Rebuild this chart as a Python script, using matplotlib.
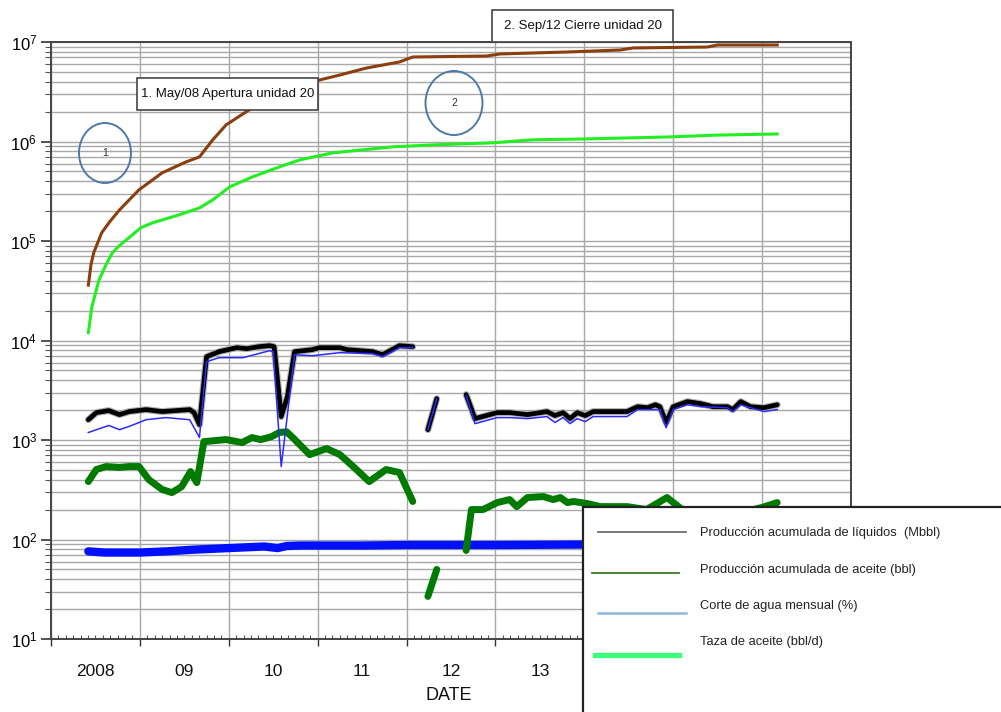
import matplotlib
matplotlib.use("Agg")
import matplotlib.pyplot as plt
import matplotlib.patheffects as pe
import numpy as np
from matplotlib.lines import Line2D
from matplotlib.patches import Ellipse, Rectangle
from matplotlib.ticker import FixedLocator, LogLocator, LogFormatterMathtext, NullFormatter

plt.rcParams["font.family"] = ["Liberation Sans", "DejaVu Sans"]
plt.rcParams["mathtext.fontset"] = "custom"
plt.rcParams["mathtext.rm"] = "Liberation Sans"
plt.rcParams["mathtext.it"] = "Liberation Sans:italic"

NaN = np.nan

# cumulative liquids (brown)
cum_liq_dates = [2008.42, 2008.45, 2008.48, 2008.57, 2008.66, 2008.77, 2008.99, 2009.25,
                 2009.52, 2009.67, 2009.82, 2009.97, 2010.23, 2010.60, 2011.02, 2011.25,
                 2011.55, 2011.92, 2012.07, 2012.90, 2013.05, 2013.81, 2014.40, 2014.55,
                 2015.38, 2015.50, 2016.17]
cum_liq = [3.6e4, 5.8e4, 7.6e4, 1.21e5, 1.56e5, 2.05e5, 3.27e5, 4.84e5,
           6.24e5, 7.0e5, 1.04e6, 1.47e6, 2.08e6, 3.1e6, 4.15e6, 4.66e6,
           5.48e6, 6.3e6, 7.07e6, 7.23e6, 7.58e6, 7.94e6, 8.31e6, 8.71e6,
           8.9e6, 9.33e6, 9.33e6]

# cumulative oil (bright green)
cum_oil_dates = [2008.42, 2008.46, 2008.54, 2008.62, 2008.69, 2008.77, 2008.85, 2009.01,
                 2009.14, 2009.44, 2009.67, 2009.82, 2010.01, 2010.27, 2010.57, 2010.80,
                 2011.17, 2011.84, 2012.30, 2012.97, 2013.42, 2013.99, 2014.93, 2015.50,
                 2016.17]
cum_oil = [1.2e4, 2.18e4, 4.07e4, 5.8e4, 7.6e4, 9.0e4, 1.03e5, 1.36e5,
           1.52e5, 1.83e5, 2.15e5, 2.59e5, 3.5e5, 4.42e5, 5.56e5, 6.54e5,
           7.69e5, 8.83e5, 9.25e5, 9.7e5, 1.04e6, 1.06e6, 1.11e6, 1.16e6,
           1.19e6]

# liquid rate (black), NaN marks the shut-in gaps
liq_rate_dates = [2008.42, 2008.51, 2008.65, 2008.77, 2008.88, 2009.07, 2009.25, 2009.56,
                  2009.61, 2009.67, 2009.75, 2009.89, 2010.09, 2010.20, 2010.34, 2010.46,
                  2010.51, 2010.59, 2010.66, 2010.74, 2010.94, 2011.02, 2011.25, 2011.33,
                  2011.62, 2011.73, 2011.92, 2012.07,
                  2012.15, 2012.24, 2012.34, 2012.50,
                  2012.67, 2012.77, 2013.02, 2013.16, 2013.36, 2013.58, 2013.67, 2013.76,
                  2013.84, 2013.92, 2014.01, 2014.10, 2014.32, 2014.48, 2014.60, 2014.71,
                  2014.80, 2014.85, 2014.92, 2015.00, 2015.16, 2015.31, 2015.45, 2015.61,
                  2015.67, 2015.76, 2015.87, 2016.02, 2016.17]
liq_rate = [1600, 1885, 1975, 1800, 1930, 2020, 1930, 2020,
            1885, 1430, 6870, 7720, 8470, 8280, 8670, 8870,
            8670, 1720, 2730, 7720, 8090, 8470, 8470, 8090,
            7720, 7190, 8870, 8670,
            NaN, 1270, 2600, NaN,
            2860, 1640, 1885, 1885, 1800, 1930, 1760, 1885,
            1640, 1885, 1760, 1930, 1930, 1930, 2160, 2110,
            2260, 2160, 1500, 2160, 2430, 2320, 2160, 2160,
            2020, 2430, 2160, 2110, 2260]

# water rate (thin blue)
water_rate_dates = [2008.42, 2008.65, 2008.77, 2008.88, 2009.07, 2009.29, 2009.56, 2009.67,
                    2009.75, 2009.89, 2010.16, 2010.46, 2010.50, 2010.59, 2010.74, 2010.94,
                    2011.25, 2011.62, 2011.73, 2011.92, 2012.07,
                    2012.15, 2012.24, 2012.34, 2012.50,
                    2012.67, 2012.77, 2013.02, 2013.16, 2013.36, 2013.58, 2013.67, 2013.76,
                    2013.84, 2013.92, 2014.01, 2014.10, 2014.48, 2014.60, 2014.85, 2014.92,
                    2015.00, 2015.16, 2015.31, 2015.61, 2015.67, 2015.76, 2016.02, 2016.17]
water_rate = [1190, 1400, 1270, 1370, 1600, 1680, 1600, 1060,
              6120, 6720, 6720, 7900, 7720, 541, 7190, 7030,
              7550, 7380, 6870, 8470, 8470,
              NaN, 1270, 2600, NaN,
              2790, 1460, 1680, 1680, 1640, 1720, 1500, 1680,
              1460, 1640, 1530, 1720, 1720, 2020, 2020, 1330,
              2020, 2260, 2160, 2110, 1930, 2260, 1930, 2020]

# oil rate (dark green)
oil_rate_dates = [2008.42, 2008.51, 2008.62, 2008.77, 2008.88, 2008.99, 2009.10, 2009.25,
                  2009.36, 2009.47, 2009.57, 2009.64, 2009.72, 2009.97, 2010.15, 2010.26,
                  2010.36, 2010.48, 2010.57, 2010.65, 2010.72, 2010.91, 2011.10, 2011.25,
                  2011.40, 2011.58, 2011.77, 2011.92, 2012.07,
                  2012.15, 2012.24, 2012.34, 2012.50,
                  2012.67, 2012.73, 2012.86, 2013.02, 2013.16, 2013.24, 2013.36, 2013.54,
                  2013.65, 2013.73, 2013.81, 2013.88, 2014.03, 2014.18, 2014.32, 2014.48,
                  2014.70, 2014.93, 2015.10, 2015.40, 2015.80, 2016.00, 2016.17]
oil_rate = [382, 505, 541, 530, 541, 541, 400, 318,
            296, 340, 482, 373, 963, 1010, 942, 1057,
            1010, 1080, 1190, 1210, 1057, 713, 820, 713,
            541, 382, 505, 471, 241,
            NaN, 26.8, 50, NaN,
            77.6, 200, 200, 235, 252, 214, 264, 270,
            252, 264, 235, 241, 230, 214, 214, 214,
            200, 264, 200, 178, 190, 210, 235]

# water cut (thick blue)
water_cut_dates = [2008.42, 2008.60, 2009.00, 2009.30, 2009.60, 2010.00, 2010.40, 2010.55,
                   2010.65, 2010.80, 2011.50, 2012.00, 2013.00, 2014.00, 2016.17]
water_cut = [76, 74, 74, 76, 79, 82, 85, 82,
             86, 87, 87, 88, 88, 89, 90]

years = list(range(2008, 2017))
year_labels = ["2008", "09", "10", "11", "12", "13", "14", "15", "16"]

legend_labels = [
    "Producción acumulada de líquidos  (Mbbl)",
    "Producción acumulada de aceite (bbl)",
    "Corte de agua mensual (%)",
    "Taza de aceite (bbl/d)",
]

W, H = 1001, 712


def fx(px):
    return px / W


def fy(py):
    return 1 - py / H


fig = plt.figure(figsize=(W / 100, H / 100), dpi=100)
ax = fig.add_axes([fx(51), fy(639), 800 / W, 597 / H])

ax.set_yscale("log")
ax.set_xlim(2008, 2017)
ax.set_ylim(10, 1e7)

ax.plot(water_cut_dates, water_cut, color="#0010ff", lw=6.0, solid_capstyle="round", zorder=3)
ax.plot(oil_rate_dates, oil_rate, color="#007a00", lw=5.0, solid_capstyle="round",
        solid_joinstyle="round", zorder=4)
ax.plot(liq_rate_dates, liq_rate, color="black", lw=3.4, solid_capstyle="round", zorder=5,
        path_effects=[pe.Stroke(linewidth=5.0, foreground="#b0b0b0"), pe.Normal()])
ax.plot(water_rate_dates, water_rate, color="#2a2aff", lw=1.1, zorder=6)
ax.plot(cum_liq_dates, cum_liq, color="#8b3f0e", lw=2.2, solid_joinstyle="round", zorder=4)
ax.plot(cum_oil_dates, cum_oil, color="#22ee22", lw=2.2, solid_joinstyle="round", zorder=4)

# grid and ticks
ax.xaxis.set_major_locator(FixedLocator(years + [2017]))
ax.xaxis.set_minor_locator(FixedLocator(np.arange(2008, 2017, 1 / 12)))
ax.xaxis.set_major_formatter(NullFormatter())
ax.yaxis.set_major_locator(LogLocator(base=10, numticks=10))
ax.yaxis.set_minor_locator(LogLocator(base=10, subs=np.arange(2, 10), numticks=20))
ax.yaxis.set_major_formatter(LogFormatterMathtext())
ax.yaxis.set_minor_formatter(NullFormatter())

ax.grid(True, which="major", axis="x", color="#a8a8a8", lw=1.0)
ax.grid(True, which="both", axis="y", color="#a8a8a8", lw=1.0)
ax.set_axisbelow(True)

ax.tick_params(axis="x", which="major", direction="out", length=5, width=1, color="#333333")
ax.tick_params(axis="x", which="minor", direction="in", length=3, width=0.8, color="#555555")
ax.tick_params(axis="y", which="major", direction="out", length=7, width=1.2,
               labelsize=12, pad=3, color="#333333")
ax.tick_params(axis="y", which="minor", direction="out", length=4, width=0.8, color="#555555")

for side in ("left", "right", "top", "bottom"):
    ax.spines[side].set_color("#444444")
    ax.spines[side].set_linewidth(1.4)

xform = ax.get_xaxis_transform()
for yr, lab in zip(years, year_labels):
    ax.text(yr + 0.5, -0.054, lab, transform=xform, ha="center", va="center",
            fontsize=12.5, color="#111111", clip_on=False)

fig.text(fx(449), fy(695), "DATE", ha="center", va="center", fontsize=13, color="#111111")

# event boxes and markers
for (x0, y0, w, h), txt in [((137, 78, 181, 32), "1. May/08 Apertura unidad 20"),
                            ((492, 10, 181, 32), "2. Sep/12 Cierre unidad 20")]:
    fig.add_artist(Rectangle((fx(x0), fy(y0 + h)), w / W, h / H, transform=fig.transFigure,
                             facecolor="white", edgecolor="#444444", lw=1.2, zorder=5))
    fig.text(fx(x0 + w / 2), fy(y0 + h / 2), txt, ha="center", va="center",
             fontsize=9.5, color="#111111", zorder=6)

for (cx, cy, w, h), txt in [((105, 153, 52, 60), "1"), ((454, 103, 57, 64), "2")]:
    fig.add_artist(Ellipse((fx(cx), fy(cy)), w / W, h / H, transform=fig.transFigure,
                           facecolor="none", edgecolor="#4c79a8", lw=1.4, zorder=5))
    fig.text(fx(cx), fy(cy), txt, ha="center", va="center", fontsize=7.5, color="#333333",
             zorder=6)

# legend panel
fig.add_artist(Rectangle((fx(583), -0.02), 0.5, fy(507) + 0.02, transform=fig.transFigure,
                         facecolor="white", edgecolor="#222222", lw=1.6, zorder=10))
legend_styles = [
    dict(color="#6e6e6e", lw=1.3, x=(598, 686), y=532, ty=533),
    dict(color="#3b7a2a", lw=1.3, x=(592, 679), y=573, ty=570),
    dict(color="#93b6dc", lw=1.8, x=(598, 686), y=613, ty=606),
    dict(color="#3cff78", lw=3.8, x=(595, 679), y=655, ty=642),
]
for style, lab in zip(legend_styles, legend_labels):
    fig.add_artist(Line2D([fx(style["x"][0]), fx(style["x"][1])], [fy(style["y"])] * 2,
                          transform=fig.transFigure, color=style["color"], lw=style["lw"],
                          zorder=11))
    fig.text(fx(700), fy(style["ty"]), lab, ha="left", va="center", fontsize=9.3,
             color="#222222", zorder=11)

fig.savefig("out.png", dpi=100, facecolor="white")
